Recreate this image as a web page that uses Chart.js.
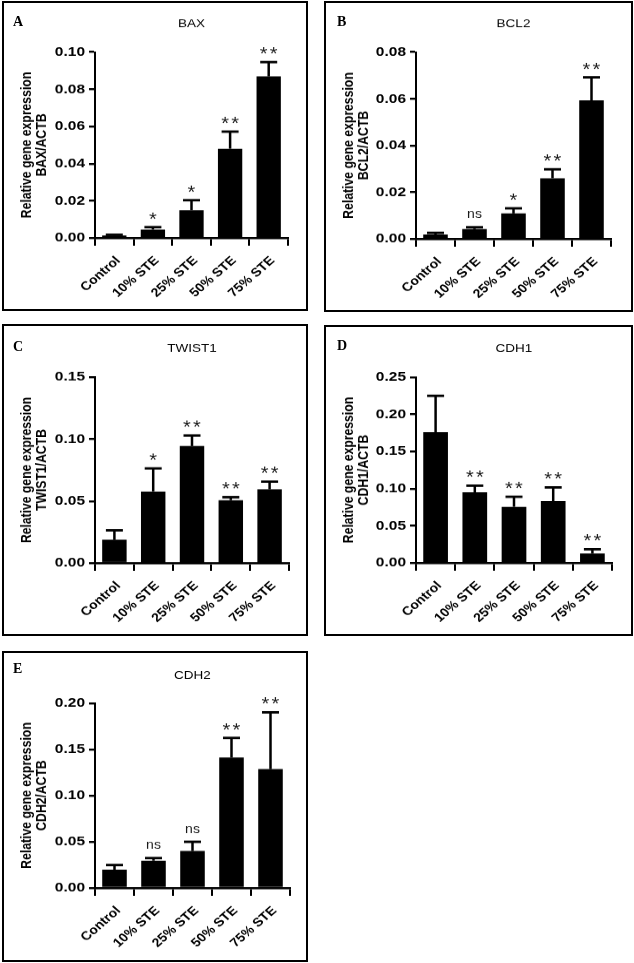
<!DOCTYPE html>
<html><head><meta charset="utf-8">
<script src="https://cdn.jsdelivr.net/npm/chart.js@4.4.0/dist/chart.umd.min.js"></script>
<style>
html,body{margin:0;padding:0;background:#fff;width:634px;height:963px;overflow:hidden;position:relative}
.frame{position:absolute;border:2.5px solid #000;box-sizing:border-box;pointer-events:none}
canvas{position:absolute}
.lbl{position:absolute;font:bold 14px "Liberation Serif",serif;color:#000;line-height:14px}
</style></head><body>
<script>
// ---------- data ----------
const categories = ['Control', '10% STE', '25% STE', '50% STE', '75% STE'];

const baxMean = [0.0013, 0.0045, 0.0149, 0.0480, 0.0869];
const baxErr  = [0.0004, 0.0013, 0.0054, 0.0092, 0.0077];
const baxSig  = ['', '*', '*', '**', '**'];
const baxTicks = [0, 0.02, 0.04, 0.06, 0.08, 0.10];

const bcl2Mean = [0.0019, 0.0042, 0.0109, 0.0260, 0.0593];
const bcl2Err  = [0.0007, 0.0008, 0.0022, 0.0038, 0.0099];
const bcl2Sig  = ['', 'ns', '*', '**', '**'];
const bcl2Ticks = [0, 0.02, 0.04, 0.06, 0.08];

const twist1Mean = [0.0189, 0.0577, 0.0944, 0.0507, 0.0594];
const twist1Err  = [0.0075, 0.0186, 0.0084, 0.0024, 0.0062];
const twist1Sig  = ['', '*', '**', '**', '**'];
const twist1Ticks = [0, 0.05, 0.10, 0.15];

const cdh1Mean = [0.1758, 0.0949, 0.0755, 0.0832, 0.0126];
const cdh1Err  = [0.0490, 0.0090, 0.0135, 0.0184, 0.0058];
const cdh1Sig  = ['', '**', '**', '**', '**'];
const cdh1Ticks = [0, 0.05, 0.10, 0.15, 0.20, 0.25];

const cdh2Mean = [0.0197, 0.0294, 0.0399, 0.1411, 0.1285];
const cdh2Err  = [0.0051, 0.0029, 0.0100, 0.0212, 0.0615];
const cdh2Sig  = ['', 'ns', 'ns', '**', '**'];
const cdh2Ticks = [0, 0.05, 0.10, 0.15, 0.20];

// ---------- layout (page pixels) ----------
const SY = 0.87; // vertical compression of the original figure
const panels = [
  {letter:'A', title:'BAX',    gene:'BAX/ACTB',    mean:baxMean,    err:baxErr,    sig:baxSig,    ticks:baxTicks,
   box:{x:2,y:1,w:306,h:310},   area:{l:95,r:288,t:52,b:238},  titleY:24,  lbl:{x:13,y:15}},
  {letter:'B', title:'BCL2',   gene:'BCL2/ACTB',   mean:bcl2Mean,   err:bcl2Err,   sig:bcl2Sig,   ticks:bcl2Ticks,
   box:{x:324,y:1,w:309,h:311}, area:{l:416,r:611,t:52,b:239}, titleY:24,  lbl:{x:337,y:15}},
  {letter:'C', title:'TWIST1', gene:'TWIST1/ACTB', mean:twist1Mean, err:twist1Err, sig:twist1Sig, ticks:twist1Ticks,
   box:{x:2,y:324,w:306,h:312}, area:{l:95,r:289,t:377,b:563}, titleY:349, lbl:{x:13,y:340}},
  {letter:'D', title:'CDH1',   gene:'CDH1/ACTB',   mean:cdh1Mean,   err:cdh1Err,   sig:cdh1Sig,   ticks:cdh1Ticks,
   box:{x:324,y:325,w:309,h:311}, area:{l:416,r:612,t:377,b:563}, titleY:349, lbl:{x:337,y:339}},
  {letter:'E', title:'CDH2',   gene:'CDH2/ACTB',   mean:cdh2Mean,   err:cdh2Err,   sig:cdh2Sig,   ticks:cdh2Ticks,
   box:{x:2,y:651,w:306,h:311}, area:{l:95,r:290,t:703,b:888}, titleY:676, lbl:{x:13,y:662}}
];

const annot = {
  id: 'annot',
  afterDatasetsDraw(chart, args, o) {
    const {ctx, chartArea} = chart;
    const y = chart.scales.y;
    const meta = chart.getDatasetMeta(0);
    ctx.save();
    meta.data.forEach((bar, i) => {
      const px = bar.x;
      const y0 = y.getPixelForValue(o.mean[i]);
      const y1 = y.getPixelForValue(o.mean[i] + o.err[i]);
      ctx.strokeStyle = '#000';
      ctx.lineWidth = 2.5;
      ctx.beginPath();
      ctx.moveTo(px, y0); ctx.lineTo(px, y1);
      ctx.stroke();
      ctx.lineWidth = 2.8;
      ctx.beginPath();
      ctx.moveTo(px - 8.5, y1); ctx.lineTo(px + 8.5, y1);
      ctx.stroke();
      const s = o.sig[i];
      ctx.fillStyle = '#1a1a1a';
      ctx.textAlign = 'center';
      ctx.textBaseline = 'alphabetic';
      if (s === 'ns') {
        ctx.font = '14px "Liberation Sans", Arial, sans-serif';
        ctx.fillText('ns', px, y1 - 10.5);
      } else if (s) {
        ctx.font = '20px "Liberation Sans", Arial, sans-serif';
        const n = s.length;
        for (let k = 0; k < n; k++) {
          ctx.fillText('*', px + (k - (n - 1) / 2) * 10, y1 - 3);
        }
      }
    });
    ctx.fillStyle = '#000';
    ctx.font = '13.5px "Liberation Sans", Arial, sans-serif';
    ctx.textAlign = 'center';
    ctx.textBaseline = 'middle';
    ctx.fillText(o.title, (chartArea.left + chartArea.right) / 2, o.titleY);
    ctx.restore();
  }
};

panels.forEach(p => {
  const b = p.box, a = p.area;
  const ch = Math.round(b.h / SY);
  const cv = document.createElement('canvas');
  cv.width = b.w; cv.height = ch;
  cv.style.left = b.x + 'px'; cv.style.top = b.y + 'px';
  cv.style.width = b.w + 'px'; cv.style.height = b.h + 'px';
  document.body.appendChild(cv);
  const fr = document.createElement('div');
  fr.className = 'frame';
  Object.assign(fr.style, {left:b.x+'px', top:b.y+'px', width:b.w+'px', height:b.h+'px'});
  document.body.appendChild(fr);
  const lb = document.createElement('div');
  lb.className = 'lbl'; lb.textContent = p.letter;
  lb.style.left = p.lbl.x + 'px'; lb.style.top = p.lbl.y + 'px';
  document.body.appendChild(lb);

  const step = p.ticks[1] - p.ticks[0];
  new Chart(cv.getContext('2d'), {
    type: 'bar',
    data: {
      labels: categories,
      datasets: [{ data: p.mean, backgroundColor: '#000', borderWidth: 0,
                   barPercentage: 0.63, categoryPercentage: 1 }]
    },
    options: {
      responsive: false, animation: false, devicePixelRatio: 1,
      layout: { padding: { left: 0, right: b.x + b.w - a.r, top: (a.t - b.y) / SY, bottom: 0 } },
      plugins: {
        legend: { display: false }, tooltip: { enabled: false }, title: { display: false },
        annot: { mean: p.mean, err: p.err, sig: p.sig, title: p.title, titleY: (p.titleY - b.y) / SY }
      },
      scales: {
        x: {
          offset: true,
          grid: { display: true, drawOnChartArea: false, drawTicks: true, tickLength: 9, color: '#000', lineWidth: 2 },
          border: { display: true, color: '#000', width: 2.4 },
          ticks: { color: '#000', font: { family: '"Liberation Sans", Arial, sans-serif', size: 14, weight: 'bold' },
                   minRotation: 45, maxRotation: 45, padding: 9, labelOffset: 4, autoSkip: false },
          afterFit: (s) => { s.height = (b.y + b.h - a.b) / SY; }
        },
        y: {
          min: p.ticks[0], max: p.ticks[p.ticks.length - 1],
          afterBuildTicks: (s) => { s.ticks = p.ticks.map(v => ({ value: v })); },
          grid: { display: true, drawOnChartArea: false, drawTicks: true, tickLength: 6, color: '#000', lineWidth: 2.4 },
          border: { display: true, color: '#000', width: 2 },
          ticks: { color: '#000', padding: 4, stepSize: step,
                   font: { family: '"Liberation Sans", Arial, sans-serif', size: 15.5, weight: 'bold' },
                   callback: (v) => Number(v).toFixed(2) },
          title: { display: true, text: ['Relative gene expression', p.gene], color: '#000',
                   font: { family: '"Liberation Sans", Arial, sans-serif', size: 14, weight: 'bold', lineHeight: 15 / 14 },
                   padding: { top: 17.5, bottom: 0 } },
          afterFit: (s) => { s.width = a.l - b.x; }
        }
      }
    },
    plugins: [annot]
  });
});
</script>
</body></html>
